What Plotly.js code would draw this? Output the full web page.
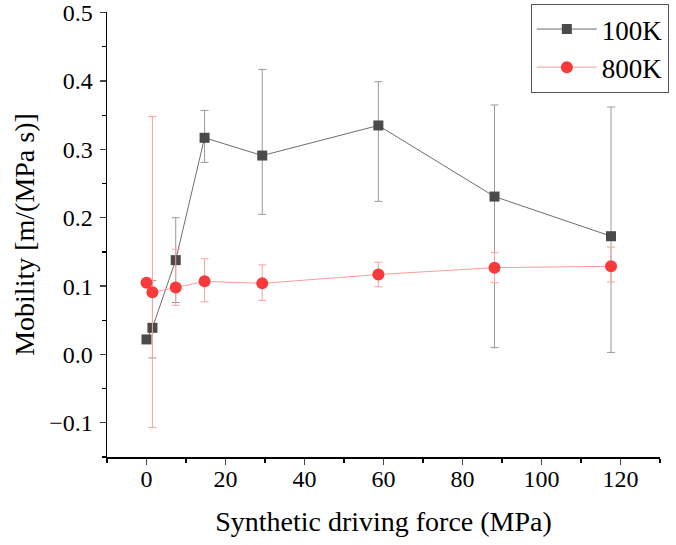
<!DOCTYPE html>
<html>
<head>
<meta charset="utf-8">
<script src="https://cdn.plot.ly/plotly-3.0.1.min.js"></script>
<style>html,body{margin:0;padding:0;background:#fff;}#chart{width:676px;height:545px;}</style>
</head>
<body>
<div id="chart"></div>
<script>
// Data
const x100 = [0.0, 1.5, 7.4, 14.7, 29.3, 58.7, 88.1, 117.6];
const y100 = [0.022, 0.039, 0.138, 0.317, 0.291, 0.335, 0.231, 0.173];
const err100Plus = [0.0, 0.069, 0.062, 0.040, 0.126, 0.064, 0.134, 0.189];
const err100Minus = [0.0, 0.044, 0.062, 0.036, 0.086, 0.111, 0.221, 0.170];

const x800 = [0.0, 1.5, 7.4, 14.7, 29.3, 58.7, 88.1, 117.6];
const y800 = [0.105, 0.091, 0.098, 0.107, 0.104, 0.117, 0.127, 0.129];
const err800Plus = [0.0, 0.257, 0.056, 0.033, 0.027, 0.018, 0.022, 0.028];
const err800Minus = [0.0, 0.198, 0.026, 0.030, 0.025, 0.018, 0.022, 0.023];

const names = ['100K', '800K'];
const xTickVals = [0, 20, 40, 60, 80, 100, 120];
const yTickVals = [-0.1, 0.0, 0.1, 0.2, 0.3, 0.4, 0.5];
const yTickText = ['\u22120.1', '0.0', '0.1', '0.2', '0.3', '0.4', '0.5'];

const traces = [
  {
    x: x100, y: y100, name: names[0], type: 'scatter', mode: 'lines+markers',
    line: {color: '#6e6e6e', width: 1},
    marker: {symbol: 'square', size: 10, color: '#4a4a4a'},
    error_y: {type: 'data', symmetric: false, array: err100Plus, arrayminus: err100Minus,
              color: '#9a9a9a', thickness: 1, width: 4}
  },
  {
    x: x800, y: y800, name: names[1], type: 'scatter', mode: 'lines+markers',
    line: {color: '#ff9a9a', width: 1},
    marker: {symbol: 'circle', size: 12, color: '#f83a3a'},
    error_y: {type: 'data', symmetric: false, array: err800Plus, arrayminus: err800Minus,
              color: '#ffa0a0', thickness: 1, width: 4}
  }
];

const font = 'Liberation Serif, "Times New Roman", serif';
const layout = {
  width: 676, height: 545,
  margin: {l: 107, r: 16, t: 12, b: 88, autoexpand: false},
  paper_bgcolor: '#fff', plot_bgcolor: '#fff',
  font: {family: font, size: 24, color: '#000'},
  showlegend: true,
  legend: {
    x: 1.016, xanchor: 'right', y: 1.018, yanchor: 'top',
    bgcolor: '#fff', bordercolor: '#555', borderwidth: 1,
    font: {family: font, size: 27, color: '#000'},
    itemwidth: 60,
    tracegroupgap: 0
  },
  xaxis: {
    range: [-10, 130], tickvals: xTickVals, ticks: 'outside', ticklen: 6, tickwidth: 1.3,
    showline: true, linecolor: '#000', linewidth: 1.5, mirror: false,
    showgrid: false, zeroline: false, ticklabelstandoff: -6,
    minor: {dtick: 10, tick0: 0, ticks: 'outside', ticklen: 4, tickwidth: 1.2, tickcolor: '#000'},
    tickfont: {family: font, size: 24},
    title: {text: 'Synthetic driving force (MPa)', font: {family: font, size: 28}, standoff: 20}
  },
  yaxis: {
    range: [-0.15, 0.501], tickvals: yTickVals, ticktext: yTickText, ticks: 'outside', ticklen: 6, tickwidth: 1.3,
    showline: true, linecolor: '#000', linewidth: 1.5, mirror: false,
    showgrid: false, zeroline: false, ticklabelstandoff: 2, ticklabeloverflow: 'allow',
    minor: {dtick: 0.05, tick0: 0, ticks: 'outside', ticklen: 4, tickwidth: 1.2, tickcolor: '#000'},
    tickfont: {family: font, size: 24},
    title: {text: 'Mobility [m/(MPa s)]', font: {family: font, size: 28}, standoff: 6}
  }
};

Plotly.newPlot('chart', traces, layout, {displayModeBar: false, staticPlot: true});
</script>
</body>
</html>
